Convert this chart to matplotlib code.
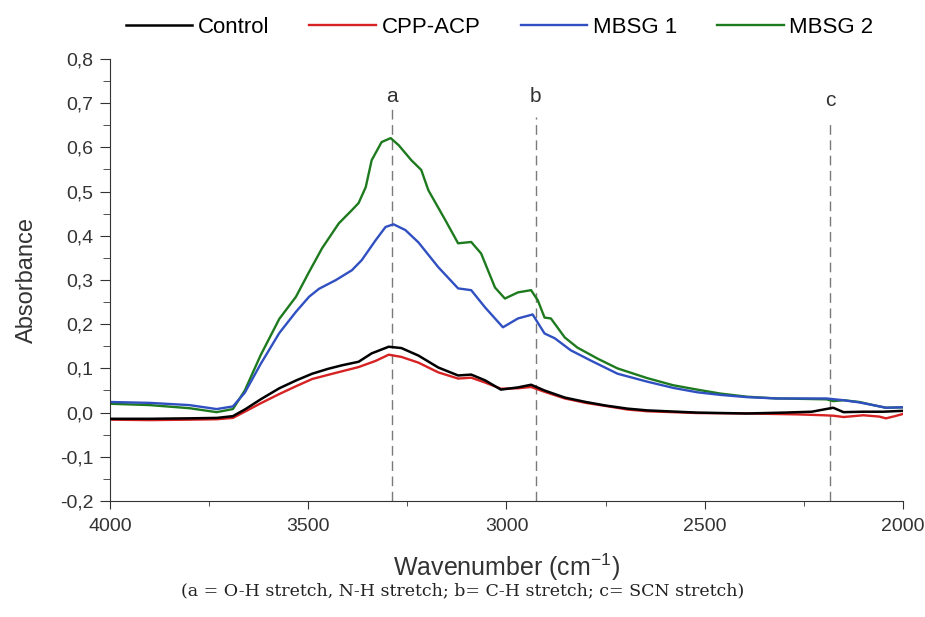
import numpy as np
import matplotlib.pyplot as plt
from matplotlib.ticker import FuncFormatter, MultipleLocator

# Данные (волновое число, поглощение)
wn_control = [4000, 3900, 3800, 3730, 3690, 3658, 3620, 3573, 3530, 3490, 3450, 3415, 3373, 3340, 3297,
              3265, 3222, 3172, 3122, 3089, 3054, 3014, 2971, 2938, 2904, 2853, 2800, 2750, 2695, 2645,
              2519, 2394, 2300, 2230, 2176, 2150, 2100, 2050, 2000]
abs_control = [-0.014, -0.014, -0.013, -0.012, -0.008, 0.008, 0.030, 0.055, 0.073, 0.088, 0.099, 0.107,
               0.115, 0.134, 0.149, 0.146, 0.129, 0.102, 0.084, 0.086, 0.073, 0.052, 0.057, 0.063, 0.050,
               0.034, 0.024, 0.016, 0.009, 0.005, 0.000, -0.002, 0.000, 0.002, 0.011, 0.001, 0.002, 0.002,
               0.004]

wn_cpp = [4000, 3900, 3800, 3730, 3690, 3658, 3620, 3573, 3530, 3490, 3430, 3373, 3330, 3297, 3265, 3222,
          3172, 3122, 3089, 3054, 3014, 2971, 2938, 2904, 2853, 2800, 2750, 2695, 2645, 2519, 2394, 2268,
          2200, 2176, 2150, 2100, 2060, 2043, 2020, 2000]
abs_cpp = [-0.016, -0.017, -0.016, -0.015, -0.012, 0.003, 0.021, 0.042, 0.060, 0.076, 0.090, 0.103, 0.117,
           0.131, 0.126, 0.113, 0.091, 0.077, 0.079, 0.068, 0.054, 0.055, 0.058, 0.047, 0.032, 0.022,
           0.015, 0.007, 0.003, -0.001, -0.002, -0.004, -0.006, -0.007, -0.010, -0.006, -0.009, -0.013,
           -0.008, -0.003]

wn_mbsg1 = [4000, 3900, 3800, 3731, 3690, 3660, 3620, 3573, 3531, 3498, 3473, 3430, 3390, 3365, 3330, 3305,
            3285, 3255, 3222, 3172, 3122, 3089, 3054, 3009, 2971, 2934, 2904, 2878, 2838, 2788, 2720, 2645,
            2580, 2519, 2460, 2394, 2319, 2250, 2193, 2150, 2110, 2070, 2043, 2000]
abs_mbsg1 = [0.024, 0.022, 0.017, 0.008, 0.014, 0.045, 0.110, 0.180, 0.228, 0.262, 0.280, 0.300, 0.322,
             0.345, 0.390, 0.420, 0.426, 0.413, 0.385, 0.329, 0.281, 0.277, 0.238, 0.193, 0.213, 0.222,
             0.179, 0.168, 0.141, 0.118, 0.088, 0.070, 0.056, 0.046, 0.040, 0.035, 0.032, 0.032, 0.032,
             0.028, 0.023, 0.016, 0.011, 0.012]

wn_mbsg2 = [4000, 3900, 3800, 3731, 3690, 3660, 3620, 3573, 3531, 3498, 3465, 3423, 3390, 3373, 3355, 3340,
            3315, 3292, 3272, 3240, 3215, 3197, 3154, 3122, 3089, 3064, 3029, 3004, 2971, 2938, 2921, 2904,
            2888, 2853, 2821, 2770, 2720, 2645, 2580, 2519, 2460, 2394, 2319, 2250, 2193, 2176, 2150, 2110,
            2070, 2043, 2000]
abs_mbsg2 = [0.020, 0.017, 0.010, 0.001, 0.008, 0.050, 0.130, 0.212, 0.262, 0.318, 0.372, 0.428, 0.458,
             0.474, 0.510, 0.571, 0.612, 0.621, 0.605, 0.571, 0.549, 0.503, 0.435, 0.383, 0.386, 0.360,
             0.283, 0.258, 0.272, 0.277, 0.254, 0.215, 0.213, 0.170, 0.147, 0.122, 0.100, 0.078, 0.062,
             0.052, 0.043, 0.036, 0.032, 0.031, 0.030, 0.026, 0.028, 0.024, 0.016, 0.011, 0.012]

# Положение полос поглощения
peak_labels = ['a', 'b', 'c']
peak_pos = [3289, 2926, 2184]
peak_top = [0.69, 0.669, 0.657]
label_y = [0.703, 0.703, 0.694]

plt.rcParams['font.family'] = ['Liberation Sans', 'DejaVu Sans']
plt.rcParams['mathtext.fontset'] = 'custom'
plt.rcParams['mathtext.rm'] = 'Liberation Sans'
plt.rcParams['mathtext.it'] = 'Liberation Sans'

fig = plt.figure(figsize=(9.25, 6.17), dpi=100)
ax = fig.add_axes([0.1189, 0.188, 0.8573, 0.7164])

ax.plot(wn_control, abs_control, color='black', lw=1.8, label='Control', zorder=3)
ax.plot(wn_cpp, abs_cpp, color='#d62222', lw=1.7, label='CPP-ACP', zorder=2)
ax.plot(wn_mbsg1, abs_mbsg1, color='#3050c2', lw=1.7, label='MBSG 1', zorder=2)
ax.plot(wn_mbsg2, abs_mbsg2, color='#1e7a1e', lw=1.7, label='MBSG 2', zorder=1)

for lab, x, top, ly in zip(peak_labels, peak_pos, peak_top, label_y):
    ax.plot([x, x], [-0.2, top], color='#7a7a7a', lw=1, ls=(0, (7, 4)), zorder=0)
    ax.text(x, ly, lab, ha='center', va='baseline', fontsize=15, color='#333333')

ax.set_xlim(4000, 2000)
ax.set_ylim(-0.2, 0.8)
ax.xaxis.set_major_locator(MultipleLocator(500))
ax.xaxis.set_minor_locator(MultipleLocator(250))
ax.yaxis.set_major_locator(MultipleLocator(0.1))
ax.yaxis.set_minor_locator(MultipleLocator(0.05))
ax.yaxis.set_major_formatter(FuncFormatter(lambda v, p: ('%.1f' % v).replace('.', ',').replace('-0,0', '0,0')))

ax.spines['top'].set_visible(False)
ax.spines['right'].set_visible(False)
ax.spines['left'].set_color('#333333')
ax.spines['bottom'].set_color('#333333')
ax.tick_params(axis='both', which='both', direction='out', colors='#333333', labelcolor='#333333')
ax.tick_params(axis='x', which='major', length=6, labelsize=14, pad=6)
ax.tick_params(axis='x', which='minor', length=3.5)
ax.tick_params(axis='y', which='major', length=7, labelsize=14, pad=5)
ax.tick_params(axis='y', which='minor', length=5)

ax.set_xlabel('Wavenumber (cm$^{-1}$)', fontsize=18, color='#333333', labelpad=12)
ax.set_ylabel('Absorbance', fontsize=17, color='#333333', labelpad=16)

fig.legend(loc='center', bbox_to_anchor=(0.54, 0.955), ncol=4, frameon=False, fontsize=16,
           handlelength=3.0, handletextpad=0.25, columnspacing=1.8)

fig.text(0.5, 0.043, '(a = O-H stretch, N-H stretch; b= C-H stretch; c= SCN stretch)',
         ha='center', va='center', fontsize=12.5, family='DejaVu Serif', color='#222222')

fig.savefig('out.png', dpi=100)
